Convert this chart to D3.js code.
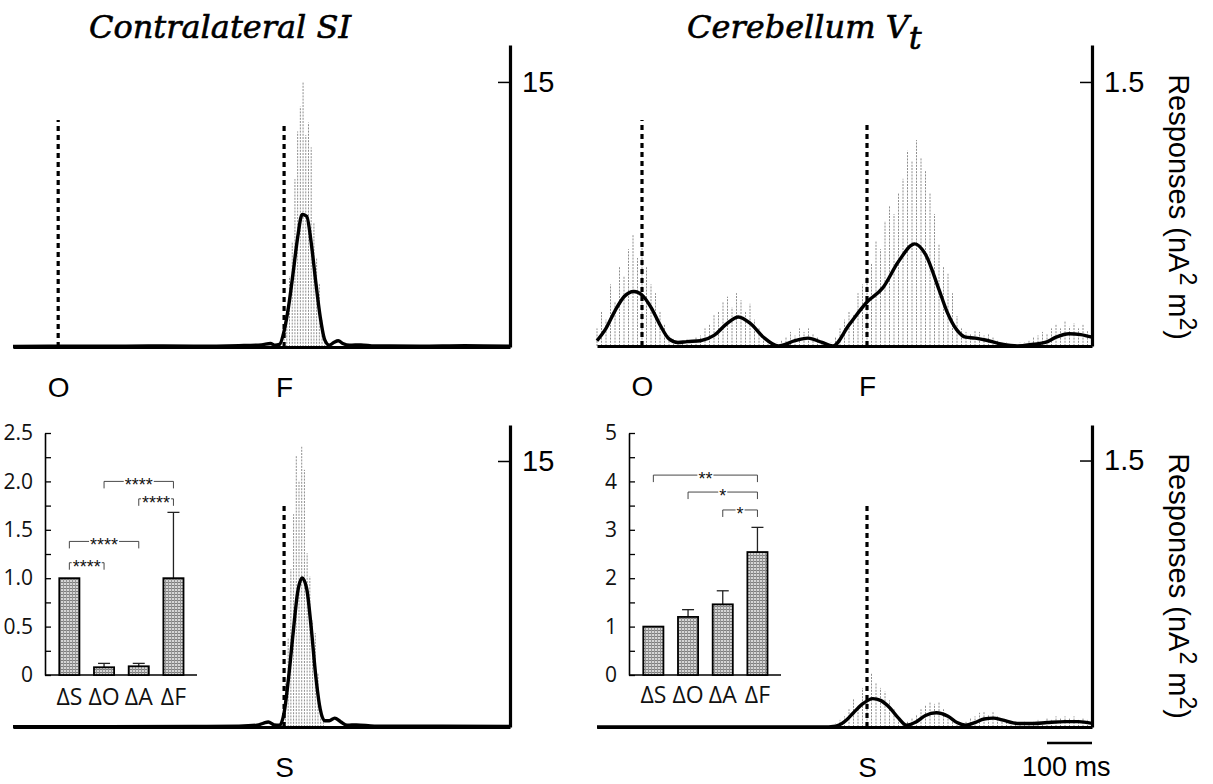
<!DOCTYPE html>
<html>
<head>
<meta charset="utf-8">
<script src="https://cdn.jsdelivr.net/npm/d3@7"></script>
<style>
body { margin: 0; background: #fff; }
svg { display: block; }
.sans { font-family: "Liberation Sans", Arial, sans-serif; }
.title { font-family: "DejaVu Serif", "Liberation Serif", serif; font-style: italic; }
</style>
</head>
<body>
<div id="chart"></div>
<script>
// ---- data ----
// time in ms, 0 = first event; spikes on a regular grid (start, step)
const tlEventT = [0, 500], tlEventLab = ['O', 'F'];
const trEventT = [0, 500], trEventLab = ['O', 'F'];
const blEventT = [500], blEventLab = ['S'];
const brEventT = [500], brEventLab = ['S'];

// top left: Contralateral SI (nA2m2, tick 15)
const tlCurveT = [-100, 0, 100, 200, 300, 400, 450, 470, 480, 490, 500, 510, 520, 530, 540, 550, 560, 570, 580, 590, 600, 610, 620, 630, 645, 670, 700, 800, 900, 1000];
const tlCurveV = [0.03, 0.05, 0.04, 0.06, 0.05, 0.08, 0.12, 0.2, 0.1, 0.15, 0.9, 2.3, 4.2, 6.2, 7.5, 7.4, 5.9, 3.7, 1.7, 0.4, 0.1, 0.25, 0.35, 0.2, 0.1, 0.12, 0.06, 0.05, 0.08, 0.05];
const tlSpikeStart = 500, tlSpikeStep = 6;
const tlSpikeV = [1.0, 2.0, 4.0, 5.9, 9.5, 12.2, 13.6, 15.0, 12.0, 12.7, 11.3, 7.0, 5.0, 3.6, 1.5, 0.6];

// top right: Cerebellum Vt (tick 1.5)
const trCurveT = [-100, -80, -60, -40, -18, 0, 20, 40, 60, 80, 100, 130, 160, 190, 214, 240, 270, 303, 340, 369, 400, 424, 460, 500, 535, 570, 606, 630, 660, 677, 700, 719, 740, 763, 800, 834, 870, 896, 920, 949, 975, 1000];
const trCurveV = [0.03, 0.1, 0.2, 0.28, 0.31, 0.29, 0.22, 0.12, 0.04, 0.02, 0.025, 0.03, 0.06, 0.13, 0.165, 0.13, 0.05, 0.0, 0.03, 0.045, 0.02, 0.0, 0.12, 0.25, 0.33, 0.48, 0.58, 0.52, 0.32, 0.2, 0.09, 0.05, 0.045, 0.034, 0.01, 0.0, 0.01, 0.02, 0.05, 0.07, 0.065, 0.05];
const trSpikeStart = -100, trSpikeStep = 10;
const trSpikeV = [0.1, 0.2, 0.15, 0.35, 0.25, 0.45, 0.4, 0.55, 0.63, 0.5, 0.58, 0.45, 0.35, 0.3, 0.2, 0.12, 0.06, 0.04, 0.03, 0.03,
  0.04, 0.03, 0.05, 0.06, 0.1, 0.12, 0.18, 0.2, 0.25, 0.28, 0.22, 0.3, 0.26, 0.2, 0.24, 0.15, 0.1, 0.05, 0.03, 0.02,
  0.02, 0.03, 0.05, 0.08, 0.06, 0.1, 0.08, 0.1, 0.07, 0.05, 0.03, 0.02, 0.02, 0.05, 0.1, 0.15, 0.2, 0.18, 0.3, 0.35,
  0.4, 0.47, 0.6, 0.55, 0.71, 0.8, 0.75, 0.87, 0.95, 1.11, 1.05, 1.17, 1.07, 1.0, 0.87, 0.75, 0.58, 0.45, 0.41, 0.3,
  0.17, 0.1, 0.08, 0.07, 0.09, 0.08, 0.06, 0.07, 0.05, 0.03, 0.02, 0.02, 0.01, 0.01, 0.02, 0.02, 0.03, 0.05, 0.06, 0.08,
  0.07, 0.1, 0.12, 0.1, 0.14, 0.11, 0.13, 0.1, 0.12, 0.09, 0.08];

// bottom left: Contralateral SI, S event
const blCurveT = [-100, 300, 400, 440, 455, 465, 478, 490, 500, 510, 520, 530, 540, 550, 560, 570, 580, 590, 600, 612, 625, 640, 660, 700, 850, 1000];
const blCurveV = [0.02, 0.03, 0.05, 0.1, 0.22, 0.28, 0.12, 0.1, 0.8, 2.8, 5.3, 7.6, 8.4, 7.8, 5.6, 2.9, 1.0, 0.35, 0.35, 0.5, 0.3, 0.1, 0.12, 0.05, 0.04, 0.03];
const blSpikeStart = 497, blSpikeStep = 6;
const blSpikeV = [0.8, 2.5, 5.0, 8.9, 12.0, 15.3, 13.9, 15.8, 14.5, 9.8, 8.5, 6.0, 5.3, 3.0, 1.2, 0.5];

// bottom right: Cerebellum Vt, S event
const brCurveT = [-100, 400, 430, 450, 470, 490, 513, 530, 550, 570, 588, 610, 630, 654, 680, 700, 719, 740, 760, 781, 800, 834, 870, 900, 940, 970, 1000];
const brCurveV = [0, 0, 0.005, 0.03, 0.08, 0.13, 0.16, 0.15, 0.11, 0.05, 0.01, 0.03, 0.065, 0.08, 0.06, 0.025, 0.01, 0.025, 0.045, 0.05, 0.04, 0.02, 0.02, 0.025, 0.03, 0.03, 0.02];
const brSpikeStart = 420, brSpikeStep = 10;
const brSpikeV = [0.01, 0.02, 0.04, 0.06, 0.1, 0.16, 0.12, 0.22, 0.18, 0.3, 0.25, 0.22, 0.2, 0.15, 0.1, 0.05, 0.02, 0.03, 0.05, 0.07,
  0.1, 0.12, 0.14, 0.13, 0.14, 0.1, 0.07, 0.04, 0.02, 0.02, 0.03, 0.05, 0.06, 0.08, 0.09, 0.07, 0.09, 0.06, 0.05, 0.03,
  0.02, 0.03, 0.02, 0.03, 0.02, 0.03, 0.04, 0.03, 0.05, 0.04, 0.06, 0.05, 0.06, 0.05, 0.06, 0.04, 0.05, 0.04, 0.03];

// insets (normalised responses)
const insetCats = ['ΔS', 'ΔO', 'ΔA', 'ΔF'];
const leftInsetV = [1.0, 0.08, 0.09, 1.0];
const leftInsetErr = [0, 0.04, 0.03, 0.68];
const leftInsetTicks = [0, 0.5, 1.0, 1.5, 2.0, 2.5];
const leftSig = [['ΔS', 'ΔO', '****', 1.16], ['ΔS', 'ΔA', '****', 1.38], ['ΔO', 'ΔF', '****', 2.0], ['ΔA', 'ΔF', '****', 1.82]];
const rightInsetV = [1.0, 1.2, 1.46, 2.54];
const rightInsetErr = [0, 0.15, 0.28, 0.51];
const rightInsetTicks = [0, 1, 2, 3, 4, 5];
const rightSig = [['ΔS', 'ΔF', '**', 4.13], ['ΔO', 'ΔF', '*', 3.78], ['ΔA', 'ΔF', '*', 3.41]];

// ---- drawing ----
const svg = d3.select('#chart').append('svg').attr('width', 1213).attr('height', 784);
const sansFont = '"Liberation Sans", Arial, sans-serif';
const insetFont = '"Open Sans", "DejaVu Sans", sans-serif';

let pat = svg.append('defs').append('pattern').attr('id', 'stip')
  .attr('patternUnits', 'userSpaceOnUse').attr('width', 3).attr('height', 3);
pat.append('rect').attr('width', 3).attr('height', 3).attr('fill', '#d6d6d6');
pat.append('rect').attr('width', 3).attr('height', 1).attr('fill', '#7e7e7e');
pat.append('rect').attr('width', 1).attr('height', 3).attr('fill', '#969696');

function drawPanel(p) {
  let x = d3.scaleLinear().domain([-100, 1000]).range([p.x0, p.x1]);
  let y = d3.scaleLinear().domain([0, p.yTop]).range([p.base, p.top]);
  let g = svg.append('g');

  // grey single-trial responses
  g.selectAll('.spike').data(p.spikeV).enter().append('line')
    .attr('class', 'spike')
    .attr('x1', (d, i) => x(p.spikeStart + i * p.spikeStep))
    .attr('x2', (d, i) => x(p.spikeStart + i * p.spikeStep))
    .attr('y1', y(0)).attr('y2', d => y(d))
    .attr('stroke', '#8f8f8f').attr('stroke-width', 1).attr('stroke-dasharray', '2,1.2');

  // event markers
  g.selectAll('.ev').data(p.evT).enter().append('line')
    .attr('class', 'ev')
    .attr('x1', d => x(d)).attr('x2', d => x(d))
    .attr('y1', y(0)).attr('y2', (d, i) => p.evTopY[i])
    .attr('stroke', '#000').attr('stroke-width', 3.2).attr('stroke-dasharray', '5,4');

  // mean response
  let line = d3.line().x(d => x(d[0])).y(d => y(d[1])).curve(d3.curveMonotoneX);
  g.append('path').datum(p.curveT.map((t, i) => [t, p.curveV[i]]))
    .attr('d', line).attr('fill', 'none').attr('stroke', '#000').attr('stroke-width', 3.4);

  // time axis with event labels
  let xa = g.append('g').attr('transform', 'translate(0,' + y(0) + ')')
    .call(d3.axisBottom(x).tickValues(p.evT).tickFormat((d, i) => p.evLab[i]).tickSize(0).tickSizeOuter(0).tickPadding(30));
  xa.select('.domain').attr('stroke-width', 3.2);
  xa.selectAll('text').attr('font-size', 28).attr('font-family', sansFont);

  // right amplitude axis
  let ya = g.append('g').attr('transform', 'translate(' + p.x1 + ',0)')
    .call(d3.axisRight(y).tickValues([p.tick]).tickFormat(d => p.tickLab).tickSizeInner(-12).tickSizeOuter(0).tickPadding(12));
  ya.select('.domain').attr('stroke-width', 3.2);
  ya.selectAll('.tick line').attr('stroke-width', 1.5);
  ya.selectAll('text').attr('font-size', 29).attr('font-family', sansFont);
  return x;
}

drawPanel({x0: 13, x1: 510, base: 347, top: 45, yTop: 17.09, tick: 15, tickLab: '15',
  evT: tlEventT, evLab: tlEventLab, evTopY: [120, 123],
  curveT: tlCurveT, curveV: tlCurveV, spikeStart: tlSpikeStart, spikeStep: tlSpikeStep, spikeV: tlSpikeV});
drawPanel({x0: 597, x1: 1092, base: 346, top: 45, yTop: 1.71, tick: 1.5, tickLab: '1.5',
  evT: trEventT, evLab: trEventLab, evTopY: [120, 123],
  curveT: trCurveT, curveV: trCurveV, spikeStart: trSpikeStart, spikeStep: trSpikeStep, spikeV: trSpikeV});
drawPanel({x0: 13, x1: 510, base: 727, top: 425, yTop: 17.03, tick: 15, tickLab: '15',
  evT: blEventT, evLab: blEventLab, evTopY: [504],
  curveT: blCurveT, curveV: blCurveV, spikeStart: blSpikeStart, spikeStep: blSpikeStep, spikeV: blSpikeV});
let xbr = drawPanel({x0: 597, x1: 1092, base: 727, top: 425, yTop: 1.70, tick: 1.5, tickLab: '1.5',
  evT: brEventT, evLab: brEventLab, evTopY: [503],
  curveT: brCurveT, curveV: brCurveV, spikeStart: brSpikeStart, spikeStep: brSpikeStep, spikeV: brSpikeV});

// scale bar: 100 ms
svg.append('line').attr('x1', xbr(900)).attr('x2', xbr(1000)).attr('y1', 743).attr('y2', 743)
  .attr('stroke', '#000').attr('stroke-width', 2.5);
svg.append('text').attr('class', 'sans').attr('x', xbr(943)).attr('y', 776).attr('text-anchor', 'middle')
  .attr('font-size', 27).text('100 ms');

// titles
svg.append('text').attr('class', 'title').attr('x', 89).attr('y', 38).attr('font-size', 32)
  .attr('stroke', '#000').attr('stroke-width', 0.6).text('Contralateral SI');
let t2 = svg.append('text').attr('class', 'title').attr('x', 687).attr('y', 38).attr('font-size', 32)
  .attr('stroke', '#000').attr('stroke-width', 0.6);
t2.append('tspan').text('Cerebellum V');
t2.append('tspan').attr('dy', 11).text('t');

// y labels
[207, 586].forEach(cy => {
  let t = svg.append('text').attr('class', 'sans').attr('font-size', 29).attr('text-anchor', 'middle')
    .attr('transform', 'translate(1169,' + cy + ') rotate(90)');
  t.append('tspan').text('Responses (nA');
  t.append('tspan').attr('dy', -11).attr('font-size', 23).text('2');
  t.append('tspan').attr('dy', 11).text(' m');
  t.append('tspan').attr('dy', -11).attr('font-size', 23).text('2');
  t.append('tspan').attr('dy', 11).text(')');
});

function drawInset(ax, yMax, ticks, minorStep, vals, errs, sig, fmt, labPad) {
  let xb = d3.scaleBand().domain(insetCats).range([ax + 7, ax + 145.8]).paddingInner(0.42).paddingOuter(0.21);
  let y = d3.scaleLinear().domain([0, yMax]).range([675, 433]);
  let g = svg.append('g');

  // minor ticks + axis line
  let ym = g.append('g').attr('transform', 'translate(' + ax + ',0)')
    .call(d3.axisLeft(y).tickValues(d3.range(0, yMax + 0.001, minorStep)).tickFormat('').tickSizeInner(-6).tickSizeOuter(0));
  ym.select('.domain').attr('stroke-width', 1.6);
  ym.selectAll('.tick line').attr('stroke-width', 1.3);
  // labelled ticks
  let yl = g.append('g').attr('transform', 'translate(' + ax + ',0)')
    .call(d3.axisLeft(y).tickValues(ticks).tickFormat(fmt).tickSize(0).tickPadding(12));
  yl.select('.domain').remove();
  yl.selectAll('text').attr('font-size', 21).attr('font-family', insetFont).attr('fill', '#111');

  // x axis line and category labels
  g.append('line').attr('x1', ax).attr('x2', ax + 152).attr('y1', y(0)).attr('y2', y(0))
    .attr('stroke', '#000').attr('stroke-width', 1.6);
  let xl = g.append('g').attr('transform', 'translate(0,' + y(0) + ')')
    .call(d3.axisBottom(xb).tickSize(0).tickPadding(labPad));
  xl.select('.domain').remove();
  xl.selectAll('text').attr('font-size', 23).attr('font-family', insetFont).attr('fill', '#111');

  // error bars
  insetCats.forEach((c, i) => {
    if (errs[i] <= 0) return;
    let cx = xb(c) + xb.bandwidth() / 2;
    g.append('line').attr('x1', cx).attr('x2', cx).attr('y1', y(vals[i])).attr('y2', y(vals[i] + errs[i]))
      .attr('stroke', '#222').attr('stroke-width', 1.3);
    g.append('line').attr('x1', cx - 6).attr('x2', cx + 6).attr('y1', y(vals[i] + errs[i])).attr('y2', y(vals[i] + errs[i]))
      .attr('stroke', '#222').attr('stroke-width', 1.3);
  });

  // bars
  g.selectAll('.bar').data(vals).enter().append('rect')
    .attr('class', 'bar')
    .attr('x', (d, i) => xb(insetCats[i])).attr('width', xb.bandwidth())
    .attr('y', d => y(d)).attr('height', d => y(0) - y(d))
    .attr('fill', 'url(#stip)').attr('stroke', '#000').attr('stroke-width', 1.8);

  // significance brackets
  sig.forEach(s => {
    let a = xb(s[0]) + xb.bandwidth() / 2, b = xb(s[1]) + xb.bandwidth() / 2, yy = y(s[3]);
    let mid = (a + b) / 2;
    let t = g.append('text').attr('x', mid).attr('y', yy + 10).attr('text-anchor', 'middle')
      .attr('font-size', 18).attr('font-family', sansFont).attr('fill', '#111').text(s[2]);
    let w = t.node().getComputedTextLength() / 2 + 1;
    g.append('path').attr('d', 'M' + a + ',' + (yy + 7) + 'V' + yy + 'H' + (mid - w) + 'M' + (mid + w) + ',' + yy + 'H' + b + 'V' + (yy + 7))
      .attr('fill', 'none').attr('stroke', '#333').attr('stroke-width', 0.9);
  });
}

drawInset(45, 2.5, leftInsetTicks, 0.25, leftInsetV, leftInsetErr, leftSig,
  d => d === 0 ? '0' : d3.format('.1f')(d), 14);
drawInset(629, 5, rightInsetTicks, 0.5, rightInsetV, rightInsetErr, rightSig,
  d => String(d), 12);
</script>
</body>
</html>
